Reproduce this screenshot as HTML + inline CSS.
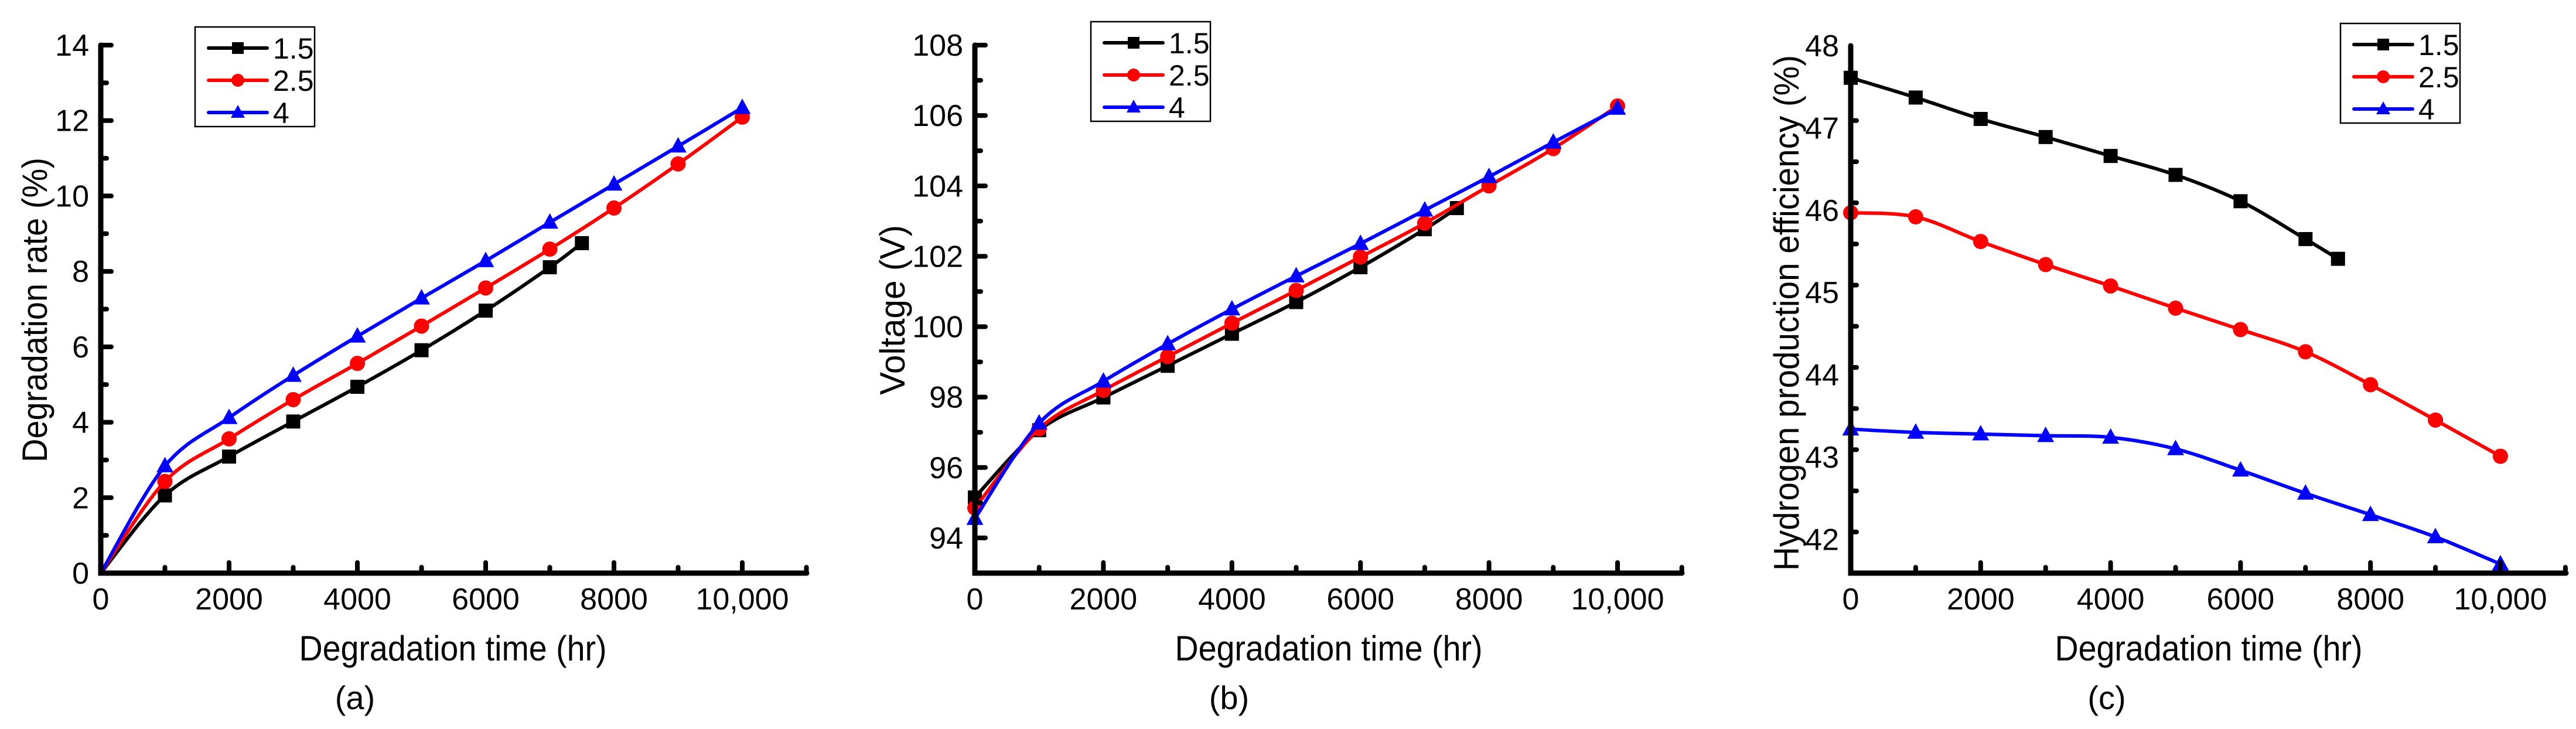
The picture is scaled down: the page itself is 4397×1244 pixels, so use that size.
<!DOCTYPE html>
<html><head><meta charset="utf-8"><style>
html,body{margin:0;padding:0;background:#fff;}
svg{display:block;font-family:"Liberation Sans",Arial,sans-serif;}
</style></head><body>
<svg id="fig" width="4397" height="1244" viewBox="0 0 4397 1244"></svg>
<script>
const xTicks=[0,2000,4000,6000,8000,10000];
const xTickLabels=["0","2000","4000","6000","8000","10,000"];
const seriesNames=["1.5","2.5","4"];
const xShort=[0,1000,2000,3000,4000,5000,6000,7000,7500];
const xLong=[0,1000,2000,3000,4000,5000,6000,7000,8000,9000,10000];
const aS1=[0,2.06,3.09,4.02,4.94,5.91,6.96,8.11,8.75];
const aS2=[0,2.43,3.56,4.6,5.56,6.55,7.56,8.59,9.68,10.85,12.09];
const aS3=[0,2.84,4.12,5.24,6.28,7.29,8.28,9.3,10.31,11.32,12.34];
const bS1=[95.15,97.06,97.99,98.89,99.8,100.7,101.69,102.77,103.37];
const bS2=[94.85,97.1,98.19,99.15,100.1,101.03,101.98,102.94,104,105.06,106.27];
const bS3=[94.55,97.26,98.45,99.51,100.5,101.44,102.36,103.31,104.26,105.24,106.2];
const cS1=[47.61,47.37,47.11,46.89,46.66,46.43,46.11,45.65,45.41];
const cS2=[45.97,45.92,45.62,45.34,45.08,44.81,44.55,44.28,43.88,43.45,43.01];
const cS3=[43.34,43.30,43.28,43.26,43.24,43.1,42.84,42.56,42.3,42.03,41.7];
const aYTicks=[0,2,4,6,8,10,12,14];
const bYTicks=[94,96,98,100,102,104,106,108];
const cYTicks=[42,43,44,45,46,47,48];

const NS="http://www.w3.org/2000/svg";
const svg=document.getElementById('fig');
function mk(tag,attrs,parent){const e=document.createElementNS(NS,tag);for(const k in attrs)e.setAttribute(k,attrs[k]);(parent||svg).appendChild(e);return e;}
function smooth(pts){
  let d="M"+pts[0][0]+","+pts[0][1];
  for(let i=0;i<pts.length-1;i++){
    const p0=pts[Math.max(0,i-1)],p1=pts[i],p2=pts[i+1],p3=pts[Math.min(pts.length-1,i+2)];
    const c1=[p1[0]+(p2[0]-p0[0])/6,p1[1]+(p2[1]-p0[1])/6];
    const c2=[p2[0]-(p3[0]-p1[0])/6,p2[1]-(p3[1]-p1[1])/6];
    d+=" C"+c1[0]+","+c1[1]+" "+c2[0]+","+c2[1]+" "+p2[0]+","+p2[1];
  }
  return d;
}
const colors=["#000000","#ff0000","#0000ff"];
function marker(g,k,x,y,s){
  let m;
  if(k===0)m=mk('rect',{x:x-s/2,y:y-s/2,width:s,height:s,fill:colors[0]},g);
  else if(k===1)m=mk('circle',{cx:x,cy:y,r:s/2+1,fill:colors[1]},g);
  else m=mk('polygon',{points:`${x},${y-s*0.65} ${x-s*0.6},${y+s*0.45} ${x+s*0.6},${y+s*0.45}`,fill:colors[2]},g);
  return m;
}
function panel(o){
  const g=mk('g',{});
  
  
  const X=v=>o.x0+(v/10000)*(o.x10k-o.x0);
  const Y=v=>o.yb-(v-o.ymin)/(o.ymax-o.ymin)*(o.yb-o.yt);
  // series
  const sets=[[o.xs[0],o.s[0]],[o.xs[1],o.s[1]],[o.xs[2],o.s[2]]];
  sets.forEach((st,k)=>{
    const pts=st[0].map((xv,i)=>[X(xv),Y(st[1][i])]);
    const p=mk('path',{d:smooth(pts),fill:'none',stroke:colors[k],'stroke-width':6,'stroke-linejoin':'round'},g);
    
    
    pts.forEach((pt,i)=>{
      if(o.skipFirst&&i===0)return;
      const m=marker(g,k,pt[0],pt[1],24);
      
      
    });
  });
  // axes
  const ax=mk('path',{d:`M${o.x0},${o.yt} V${o.yb} H${o.xend}`,fill:'none',stroke:'#000','stroke-width':9,'stroke-linecap':'round','stroke-linejoin':'miter'},g);
  
  
  // x ticks
  for(let v=1000;v<=11000;v+=1000){
    const major=(v%2000===0);
    const xp=X(v);
    if(xp>o.xend+2)continue;
    mk('line',{x1:xp,x2:xp,y1:o.yb,y2:o.yb-(major?18:10),stroke:'#000','stroke-width':8,'stroke-linecap':'round'},g);
  }
  xTicks.forEach((v,i)=>{
    const t=mk('text',{x:X(v),y:1040,'font-size':52,'text-anchor':'middle'},g);
    t.textContent=xTickLabels[i];
    
    
  });
  // y ticks
  for(let v=o.ymin;v<=o.ymax+1e-9;v+=o.minor){
    const vv=Math.round(v*1000)/1000;
    const major=o.yTicks.some(t=>Math.abs(t-vv)<1e-6);
    const yp=Y(vv);
    if(yp>o.yb-4)continue;
    mk('line',{x1:o.x0,x2:o.x0+(major?18:10),y1:yp,y2:yp,stroke:'#000','stroke-width':8,'stroke-linecap':'round'},g);
  }
  o.yTicks.forEach(v=>{
    const t=mk('text',{x:o.x0-20,y:Y(v)+18,'font-size':52,'text-anchor':'end'},g);
    t.textContent=String(v);
    
    
  });
  // titles
  const xt=mk('text',{x:o.xtc,y:1127,'font-size':60,'text-anchor':'middle',textLength:525,lengthAdjust:'spacingAndGlyphs'},g);
  xt.textContent="Degradation time (hr)";
  
  
  const yt=mk('text',{x:0,y:0,'font-size':60,'text-anchor':'middle',textLength:o.ytl,lengthAdjust:'spacingAndGlyphs',transform:`translate(${o.ytx},${o.ytc}) rotate(-90)`},g);
  yt.textContent=o.ytitle;
  
  
  const cap=mk('text',{x:o.capx,y:1210,'font-size':56,'text-anchor':'middle'},g);
  cap.textContent=o.cap;
  
  
  // legend
  const lg=mk('g',{},g);
  
  
  mk('rect',{x:o.lx,y:o.ly,width:204,height:170,fill:'#fff',stroke:'#000','stroke-width':2.5},lg);
  seriesNames.forEach((n,k)=>{
    const yy=o.ly+36+k*55;
    const e=mk('g',{},lg);
    
    
    mk('line',{x1:o.lx+23,x2:o.lx+123,y1:yy,y2:yy,stroke:colors[k],'stroke-width':6,'stroke-linecap':'round'},e);
    marker(e,k,o.lx+73,yy,20);
    const t=mk('text',{x:o.lx+133,y:yy+18,'font-size':50},e);
    t.textContent=n;
  });
}
panel({name:'panel-a-degradation-rate',x0:172,x10k:1267,xend:1377,yt:77,yb:978,ymin:0,ymax:14,minor:1,yTicks:aYTicks,
  xs:[xShort,xLong,xLong],s:[aS1,aS2,aS3],skipFirst:true,xtc:773,ytitle:"Degradation rate (%)",ytx:80,ytc:529,ytl:520,cap:"(a)",capx:606,lx:333,ly:46});
panel({name:'panel-b-voltage',x0:1664,x10k:2761,xend:2871,yt:77,yb:978,ymin:93,ymax:108,minor:1,yTicks:bYTicks,
  xs:[xShort,xLong,xLong],s:[bS1,bS2,bS3],xtc:2268,ytitle:"Voltage (V)",ytx:1544,ytc:529,ytl:290,cap:"(b)",capx:2098,lx:1862,ly:37});
panel({name:'panel-c-hydrogen-efficiency',x0:3159,x10k:4268,xend:4380,yt:78,yb:978,ymin:41.59,ymax:48,minor:0.5,yTicks:cYTicks,
  xs:[xShort,xLong,xLong],s:[cS1,cS2,cS3],xtc:3770,ytitle:"Hydrogen production efficiency (%)",ytx:3070,ytc:534,ytl:880,cap:"(c)",capx:3596,lx:3995,ly:40});
</script>
</body></html>
